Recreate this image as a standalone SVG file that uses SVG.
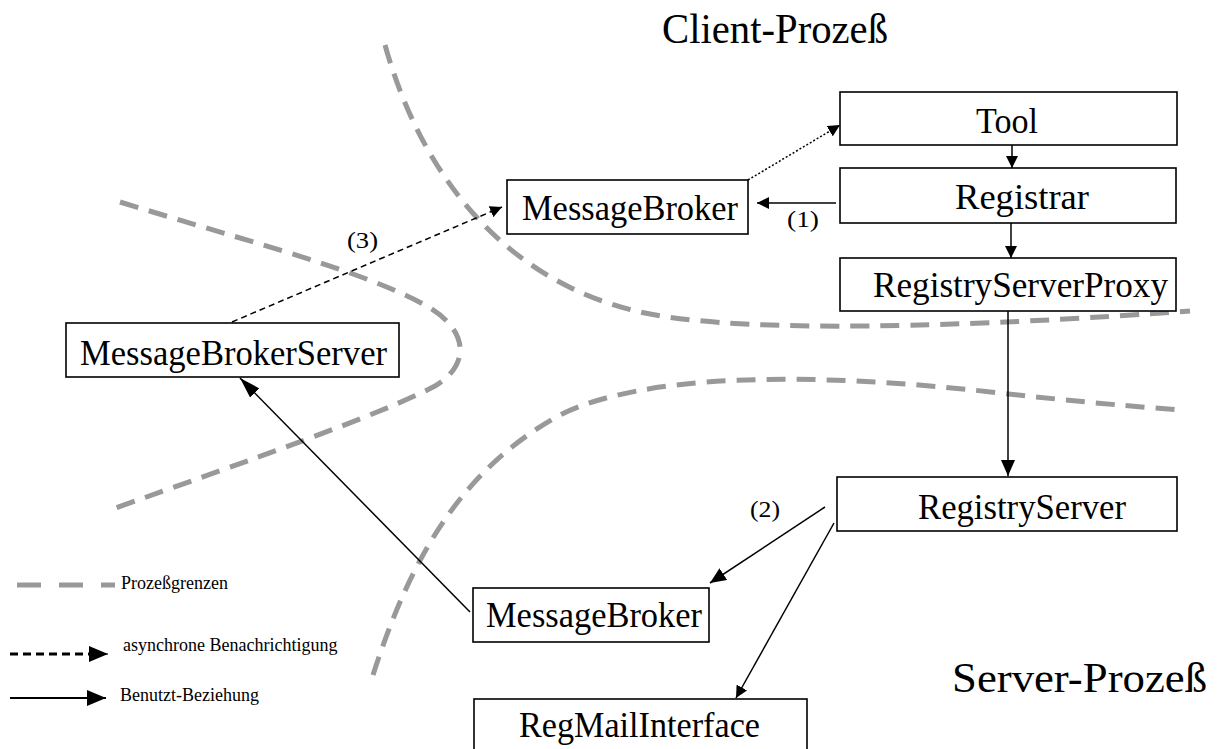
<svg xmlns="http://www.w3.org/2000/svg" width="1218" height="749" viewBox="0 0 1218 749">
<style>
.box{fill:#fff;stroke:#000;stroke-width:1.6}
.t{font-family:"Liberation Serif","Times New Roman",serif;font-size:35px;fill:#000}
.title{font-family:"Liberation Serif","Times New Roman",serif;font-size:42px;fill:#000}
.lbl{font-family:"Liberation Serif","Times New Roman",serif;font-size:24px;fill:#000}
.leg{font-family:"Liberation Serif","Times New Roman",serif;font-size:18px;fill:#000}
.bound{fill:none;stroke:#999;stroke-width:5;stroke-dasharray:19 11}
.c{fill:none;stroke:#000;stroke-width:1.5}
</style>
<defs>
<marker id="a" markerUnits="userSpaceOnUse" markerWidth="13" markerHeight="12" refX="12" refY="6" orient="auto"><path d="M0,0 L12,6 L0,12 z" fill="#000"/></marker>
<marker id="aL" markerUnits="userSpaceOnUse" markerWidth="22" markerHeight="14" refX="21" refY="6.5" orient="auto"><path d="M0,0 L21,6.5 L0,13 z" fill="#000"/></marker>
<marker id="aB" markerUnits="userSpaceOnUse" markerWidth="17" markerHeight="14" refX="16" refY="7" orient="auto"><path d="M0,0 L16,7 L0,14 z" fill="#000"/></marker>
<marker id="aLeg" markerUnits="userSpaceOnUse" markerWidth="20" markerHeight="18" refX="19" refY="8" orient="auto"><path d="M0,0 L19,8 L0,16 z" fill="#000"/></marker>
</defs>
<rect width="1218" height="749" fill="#fff"/>

<g id="boundaries">
<path class="bound" d="M385,45 C420,170 500,280 640,312 C720,330 900,332 1190,311"/>
<path class="bound" d="M120,202 C260,245 360,270 425,305 C470,330 470,365 435,386 C380,415 250,460 110,510"/>
<path class="bound" d="M373,675 C410,560 460,470 560,415 C640,375 800,370 1000,393 C1080,402 1140,407 1180,410"/>
</g>

<g id="titles">
<text class="title" x="662" y="43" textLength="226" lengthAdjust="spacingAndGlyphs">Client-Prozeß</text>
<text class="title" x="952" y="692" font-size="44" textLength="255" lengthAdjust="spacingAndGlyphs">Server-Prozeß</text>
</g>

<g id="connectors">
<line class="c" x1="1012" y1="145" x2="1012" y2="168" marker-end="url(#a)"/>
<line class="c" x1="1011" y1="223" x2="1011" y2="258" marker-end="url(#a)"/>
<line class="c" x1="836" y1="203" x2="757" y2="203" marker-end="url(#a)"/>
<line class="c" x1="748" y1="180" x2="840" y2="125" stroke-dasharray="2 2" marker-end="url(#a)"/>
<line class="c" x1="232" y1="322" x2="502" y2="207" stroke-dasharray="6 4" marker-end="url(#a)"/>
<line class="c" x1="1008" y1="311" x2="1008" y2="476" marker-end="url(#aB)"/>
<line class="c" x1="825" y1="507" x2="710" y2="583" stroke-width="2" marker-end="url(#aB)"/>
<line class="c" x1="834" y1="523" x2="736" y2="698" stroke-width="1.3" marker-end="url(#a)"/>
<line class="c" x1="470" y1="612" x2="240" y2="378" stroke-width="1.3" marker-end="url(#aL)"/>
<text class="lbl" x="787" y="227" textLength="32" lengthAdjust="spacingAndGlyphs">(1)</text>
<text class="lbl" x="347" y="248" textLength="31" lengthAdjust="spacingAndGlyphs">(3)</text>
<text class="lbl" x="750" y="517" textLength="30" lengthAdjust="spacingAndGlyphs">(2)</text>
</g>

<g id="tool"><rect class="box" x="840" y="92" width="337" height="53"/><text class="t" x="976" y="133" textLength="62" lengthAdjust="spacingAndGlyphs">Tool</text></g>
<g id="registrar"><rect class="box" x="840" y="168" width="336" height="55"/><text class="t" x="955" y="209" textLength="134" lengthAdjust="spacingAndGlyphs">Registrar</text></g>
<g id="registryServerProxy"><rect class="box" x="840" y="258" width="336" height="53"/><text class="t" x="873" y="297" textLength="295" lengthAdjust="spacingAndGlyphs">RegistryServerProxy</text></g>
<g id="messageBrokerClient"><rect class="box" x="507" y="180" width="241" height="54"/><text class="t" x="522" y="220" textLength="216" lengthAdjust="spacingAndGlyphs">MessageBroker</text></g>
<g id="messageBrokerServer"><rect class="box" x="66" y="323" width="333" height="54"/><text class="t" x="80" y="365" textLength="307" lengthAdjust="spacingAndGlyphs">MessageBrokerServer</text></g>
<g id="registryServer"><rect class="box" x="837" y="477" width="340" height="54"/><text class="t" x="918" y="519" textLength="208" lengthAdjust="spacingAndGlyphs">RegistryServer</text></g>
<g id="messageBrokerSrv"><rect class="box" x="473" y="588" width="236" height="54"/><text class="t" x="486" y="627" textLength="216" lengthAdjust="spacingAndGlyphs">MessageBroker</text></g>
<g id="regMailInterface"><rect class="box" x="474" y="699" width="333" height="60"/><text class="t" x="519" y="737" textLength="241" lengthAdjust="spacingAndGlyphs">RegMailInterface</text></g>

<g id="legend">
<line x1="17" y1="585" x2="115" y2="585" stroke="#999" stroke-width="5" stroke-dasharray="24 18"/>
<text class="leg" x="121" y="589">Prozeßgrenzen</text>
<line x1="10" y1="654" x2="92" y2="654" stroke="#000" stroke-width="3" stroke-dasharray="8 5"/>
<line x1="88" y1="654" x2="108" y2="654" stroke="#000" stroke-width="1" marker-end="url(#aLeg)"/>
<text class="leg" x="123" y="651">asynchrone Benachrichtigung</text>
<line x1="10" y1="698" x2="106" y2="698" stroke="#000" stroke-width="2" marker-end="url(#aLeg)"/>
<text class="leg" x="120" y="701">Benutzt-Beziehung</text>
</g>
</svg>
